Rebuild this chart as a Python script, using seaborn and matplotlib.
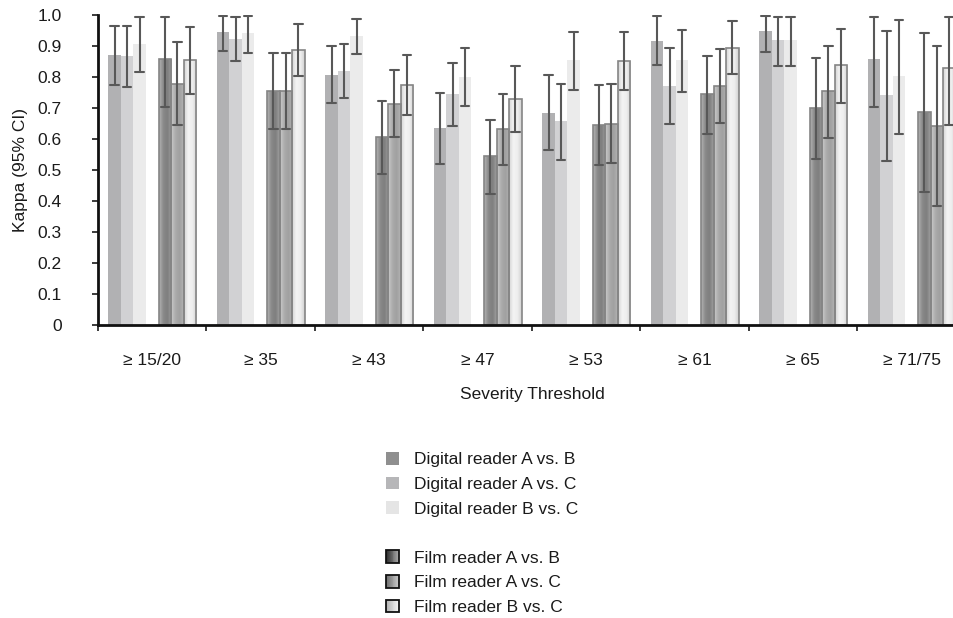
import pandas as pd
import matplotlib
matplotlib.use("Agg")
import matplotlib.pyplot as plt
import seaborn as sns
from matplotlib.colors import LinearSegmentedColormap, to_hex
from matplotlib.legend_handler import HandlerBase
from matplotlib.patches import Rectangle, Patch

# Kappa agreement per severity threshold

thresholds = ["≥ 15/20", "≥ 35", "≥ 43", "≥ 47", "≥ 53", "≥ 61", "≥ 65", "≥ 71/75"]

digital_ab = [0.871, 0.944, 0.808, 0.637, 0.685, 0.915, 0.947, 0.857]
digital_ab_lo = [0.774, 0.884, 0.717, 0.520, 0.566, 0.840, 0.881, 0.703]
digital_ab_hi = [0.966, 0.998, 0.900, 0.749, 0.806, 0.998, 0.998, 0.995]

digital_ac = [0.868, 0.923, 0.819, 0.744, 0.657, 0.772, 0.919, 0.742]
digital_ac_lo = [0.768, 0.852, 0.733, 0.642, 0.533, 0.648, 0.835, 0.529]
digital_ac_hi = [0.966, 0.995, 0.907, 0.846, 0.779, 0.894, 0.995, 0.949]

digital_bc = [0.906, 0.941, 0.932, 0.801, 0.854, 0.854, 0.919, 0.802]
digital_bc_lo = [0.817, 0.878, 0.874, 0.706, 0.759, 0.753, 0.835, 0.616]
digital_bc_hi = [0.995, 0.998, 0.987, 0.895, 0.945, 0.953, 0.995, 0.984]

film_ab = [0.857, 0.755, 0.606, 0.544, 0.644, 0.744, 0.699, 0.686]
film_ab_lo = [0.704, 0.631, 0.488, 0.424, 0.517, 0.616, 0.535, 0.429]
film_ab_hi = [0.995, 0.876, 0.724, 0.662, 0.774, 0.868, 0.862, 0.942]

film_ac = [0.778, 0.755, 0.713, 0.632, 0.649, 0.770, 0.754, 0.643]
film_ac_lo = [0.644, 0.631, 0.605, 0.517, 0.522, 0.651, 0.604, 0.383]
film_ac_hi = [0.914, 0.876, 0.823, 0.745, 0.779, 0.890, 0.901, 0.901]

film_bc = [0.854, 0.886, 0.773, 0.730, 0.853, 0.895, 0.838, 0.829]
film_bc_lo = [0.745, 0.802, 0.677, 0.621, 0.757, 0.811, 0.716, 0.645]
film_bc_hi = [0.962, 0.971, 0.871, 0.837, 0.945, 0.982, 0.955, 0.995]

series = {
    "Digital reader A vs. B": (digital_ab_lo, digital_ab, digital_ab_hi),
    "Digital reader A vs. C": (digital_ac_lo, digital_ac, digital_ac_hi),
    "Digital reader B vs. C": (digital_bc_lo, digital_bc, digital_bc_hi),
    "Film reader A vs. B": (film_ab_lo, film_ab, film_ab_hi),
    "Film reader A vs. C": (film_ac_lo, film_ac, film_ac_hi),
    "Film reader B vs. C": (film_bc_lo, film_bc, film_bc_hi),
}

# long form: lo / kappa / hi rows -> median = kappa, min/max = CI
rows = []
for name, (lo, k, hi) in series.items():
    for t, a, b, c in zip(thresholds, lo, k, hi):
        rows += [(t, name, a), (t, name, b), (t, name, c)]
df = pd.DataFrame(rows, columns=["threshold", "comparison", "kappa"])

spacer = " "
names = list(series)
hue_order = names[:3] + [spacer] + names[3:]
palette = {
    names[0]: "#b1b1b3",
    names[1]: "#d1d1d3",
    names[2]: "#ebebeb",
    spacer: "#ffffff",
    names[3]: "#999999",
    names[4]: "#b5b5b5",
    names[5]: "#e5e5e5",
}
film_cmaps = {
    "#999999": LinearSegmentedColormap.from_list("fab", ["#b4b4b4", "#8a8a8a", "#7e7e7e", "#a0a0a0"]),
    "#b5b5b5": LinearSegmentedColormap.from_list("fac", ["#cacaca", "#acacac", "#a0a0a0", "#b4b4b4"]),
    "#e5e5e5": LinearSegmentedColormap.from_list("fbc", ["#d4d4d4", "#f4f4f4", "#eeeeee", "#d0d0d0"]),
}

sns.set_style("ticks")
plt.rcParams["font.family"] = ["Liberation Sans", "DejaVu Sans"]
text_color = "#1a1a1a"
fs = 12.5

fig = plt.figure(figsize=(9.54, 6.18), dpi=100)
ax = fig.add_axes([98 / 954, 1 - 325 / 618, 868 / 954, 310 / 618])

sns.barplot(
    data=df,
    x="threshold",
    y="kappa",
    hue="comparison",
    order=thresholds,
    hue_order=hue_order,
    palette=palette,
    estimator="median",
    errorbar=lambda v: (v.min(), v.max()),
    capsize=0.55,
    err_kws={"color": "#585858", "linewidth": 1.5},
    width=0.81,
    saturation=1,
    linewidth=0,
    legend=False,
    ax=ax,
)

# gradient fill for the film bars
grad = [[i / 63 for i in range(64)]]
for patch in list(ax.patches):
    key = to_hex(patch.get_facecolor())
    if key not in film_cmaps:
        continue
    x0, y0 = patch.get_x(), patch.get_y()
    w, h = patch.get_width(), patch.get_height()
    img = ax.imshow(grad, extent=[x0, x0 + w, y0, y0 + h], aspect="auto",
                    cmap=film_cmaps[key], zorder=1.1, interpolation="bicubic")
    img.set_clip_path(patch)
    patch.set_facecolor("none")
    patch.set_edgecolor("#858585")
    patch.set_linewidth(1.2)
    patch.set_zorder(1.2)

ax.set_xlim(-0.5, len(thresholds) - 0.5)
ax.set_ylim(0, 1.0)
ax.set_aspect("auto")

ax.set_yticks([i / 10 for i in range(11)])
ax.set_yticklabels(["0"] + [f"{i / 10:.1f}" for i in range(1, 11)])
ax.tick_params(axis="y", direction="out", length=4, width=1.2, pad=22,
               labelsize=fs, colors=text_color)
ax.tick_params(axis="x", which="major", length=0, pad=20, labelsize=fs,
               labelcolor=text_color)
ax.set_xticks([i - 0.5 for i in range(len(thresholds) + 1)], minor=True)
ax.tick_params(axis="x", which="minor", direction="out", length=4, width=1.2,
               colors=text_color)

for side in ["top", "right"]:
    ax.spines[side].set_visible(False)
for side in ["left", "bottom"]:
    ax.spines[side].set_linewidth(2)
    ax.spines[side].set_color("#111111")

ax.set_xlabel("Severity Threshold", fontsize=fs, color=text_color, labelpad=14)
ax.set_ylabel("Kappa (95% CI)", fontsize=fs, color=text_color, labelpad=7)


class GradientSwatch(HandlerBase):
    def __init__(self, c0, c1, n=14):
        super().__init__()
        self.cmap = LinearSegmentedColormap.from_list("sw", [c0, c1])
        self.n = n

    def create_artists(self, legend, orig_handle, xdescent, ydescent,
                       width, height, fontsize, trans):
        arts = []
        for i in range(self.n):
            arts.append(Rectangle((-xdescent + width * i / self.n, -ydescent),
                                  width / self.n, height,
                                  facecolor=self.cmap(i / (self.n - 1)),
                                  edgecolor="none", transform=trans))
        arts.append(Rectangle((-xdescent, -ydescent), width, height,
                              facecolor="none", edgecolor="#111111",
                              linewidth=1.3, transform=trans))
        return arts


legend_colors = ["#8f8f8f", "#b6b6b8", "#e5e5e5"]
handles = [Patch(facecolor=c, edgecolor="none") for c in legend_colors]
labels = names[:3]
handles.append(Patch(facecolor="none", edgecolor="none"))
labels.append(" ")
film_handles = [Patch(), Patch(), Patch()]
handles += film_handles
labels += names[3:]
handler_map = {
    film_handles[0]: GradientSwatch("#2e2e2e", "#a8a8a8"),
    film_handles[1]: GradientSwatch("#707070", "#c8c8c8"),
    film_handles[2]: GradientSwatch("#b4b4b4", "#f4f4f4"),
}
fig.legend(handles, labels, handler_map=handler_map, loc="upper left",
           bbox_to_anchor=(386 / 954, 1 - 452 / 618), frameon=False,
           fontsize=fs, labelcolor=text_color, handlelength=0.75,
           handleheight=0.75, handletextpad=0.85, labelspacing=0.53,
           borderpad=0, borderaxespad=0)

fig.savefig("out.png", dpi=100)
